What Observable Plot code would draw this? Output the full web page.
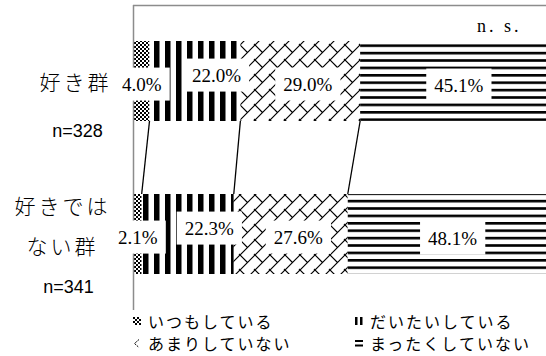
<!DOCTYPE html>
<html><head><meta charset="utf-8">
<script src="https://cdn.jsdelivr.net/npm/d3@7"></script>
<script src="https://cdn.jsdelivr.net/npm/@observablehq/plot@0.6"></script>
<style>
body{margin:0;background:#fff;}
#chart svg{display:block;overflow:hidden;}
.legend{display:grid;grid-template-columns:222px 200px;grid-auto-rows:22px;padding-left:133px;font-family:"Noto Sans CJK JP";font-size:16px;letter-spacing:2px;color:#000;}
.legend div{display:flex;align-items:center;white-space:nowrap;}
.legend svg{margin-right:7px;flex:none;}
</style></head><body>
<svg width="0" height="0" style="position:absolute">
<defs>
<pattern id="p-always" patternUnits="userSpaceOnUse" width="4" height="4">
<rect width="4" height="4" fill="#fff"/><rect width="2" height="2" fill="#000"/><rect x="2" y="2" width="2" height="2" fill="#000"/>
</pattern>
<pattern id="p-mostly" patternUnits="userSpaceOnUse" width="11" height="10">
<rect width="11" height="10" fill="#fff"/><rect width="5.5" height="10" fill="#000"/>
</pattern>
<pattern id="p-rarely" patternUnits="userSpaceOnUse" width="15" height="15">
<rect width="15" height="15" fill="#fff"/>
<path d="M-2,17L17,-2M-1,-1L7.5,7.5M14,14L16,16" stroke="#000" stroke-width="1.2" fill="none"/>
</pattern>
<pattern id="p-never" patternUnits="userSpaceOnUse" width="10" height="7.4">
<rect width="10" height="7.4" fill="#fff"/><rect width="10" height="2.6" fill="#000"/>
</pattern>
</defs>
</svg>
<div id="chart"></div>
<div class="legend" id="legend"></div>
<script>
// ---- data ----
const groups = ["好き群", "好きではない群"];
const groupLines = ["好き群", "好きでは\nない群"];
const sampleSizes = ["n=328", "n=341"];
const categories = ["いつもしている", "だいたいしている", "あまりしていない", "まったくしていない"];
const likeValues = [4.0, 22.0, 29.0, 45.1];
const dislikeValues = [2.1, 22.3, 27.6, 48.1];
const significance = "n. s.";

// ---- table built from arrays ----
const seriesByGroup = [likeValues, dislikeValues];
const data = [];
groups.forEach((g, gi) => {
  let acc = 0;
  categories.forEach((c, ci) => {
    const v = seriesByGroup[gi][ci];
    data.push({group: g, cat: c, ci, value: v, mid: acc + v / 2});
    acc += v;
  });
});
const patterns = ["url(#p-always)", "url(#p-mostly)", "url(#p-rarely)", "url(#p-never)"];
const cum = seriesByGroup.map(vals => d3.cumsum(vals).slice(0, vals.length - 1));
const nameLines = groupLines.map(s => s.split("\n"));

const serif = "Liberation Serif";
const cjk = "Noto Sans CJK JP";
// label nudges (style): per category
const labelNudge = [[0, 3], [21, -6], [7, 3], [5, 4]];

function connectors(index, scales, values, dimensions) {
  const {x, y} = scales;
  const bw = typeof y.bandwidth === "function" ? y.bandwidth() : y.bandwidth;
  const g = d3.create("svg:g").attr("stroke", "#000").attr("stroke-width", 1.3);
  cum[0].forEach((c, i) => {
    g.append("line")
      .attr("x1", x(c)).attr("y1", y(groups[0]) + bw)
      .attr("x2", x(cum[1][i])).attr("y2", y(groups[1]));
  });
  return g.node();
}
function topBorder(index, scales, values, dimensions) {
  const {x} = scales;
  return d3.create("svg:line")
    .attr("x1", x(0)).attr("x2", dimensions.width)
    .attr("y1", dimensions.marginTop + 0.5).attr("y2", dimensions.marginTop + 0.5)
    .attr("stroke", "#8c8c8c").attr("stroke-width", 1.5).node();
}

const labelMarks = categories.map((c, ci) =>
  Plot.text(data.filter(d => d.ci === ci), {x: "mid", y: "group", text: d => d.value.toFixed(1) + "%",
    dx: labelNudge[ci][0], dy: labelNudge[ci][1], fontFamily: serif, fontSize: 19, fill: "#000"}));

const nameStyle = {frameAnchor: "left", textAnchor: "middle", fontFamily: cjk, fontWeight: 300, fontSize: 21};
const chart = Plot.plot({
  width: 546,
  height: 310,
  marginLeft: 133,
  marginRight: 0,
  marginTop: 5,
  marginBottom: 0,
  x: {domain: [0, 100], axis: null},
  y: {domain: groups, axis: null, paddingInner: 0.477, paddingOuter: 0.235},
  color: {domain: categories, range: patterns},
  marks: [
    Plot.barX(data, {x: "value", y: "group", fill: "cat"}),
    Plot.ruleX([0], {stroke: "#8c8c8c", strokeWidth: 1.5}),
    topBorder,
    connectors,
    ...labelMarks,
    Plot.text([0], {y: i => groups[i], text: i => nameLines[i][0], dx: -58, dy: 2, ...nameStyle}),
    Plot.text([1], {y: i => groups[i], text: i => nameLines[i][0], dx: -71, dy: -27, ...nameStyle}),
    Plot.text([1], {y: i => groups[i], text: i => nameLines[i][1], dx: -71, dy: 13, ...nameStyle}),
    Plot.text([0], {y: i => groups[i], text: i => sampleSizes[i], frameAnchor: "left", dx: -56, dy: 50,
      textAnchor: "middle", fontFamily: "Liberation Sans", fontSize: 18}),
    Plot.text([1], {y: i => groups[i], text: i => sampleSizes[i], frameAnchor: "left", dx: -65, dy: 53,
      textAnchor: "middle", fontFamily: "Liberation Sans", fontSize: 18}),
    Plot.text([significance], {frameAnchor: "top-right", dx: -25, dy: 14, textAnchor: "end",
      fontFamily: serif, fontSize: 18})
  ]
});
document.getElementById("chart").append(chart);

const texts = Array.from(chart.querySelectorAll("text"));
// white boxes behind percentage labels
texts.filter(t => /%$/.test(t.textContent)).forEach(t => {
  const b = t.getBBox();
  const r = document.createElementNS("http://www.w3.org/2000/svg", "rect");
  r.setAttribute("x", b.x - 8); r.setAttribute("y", b.y - 6);
  r.setAttribute("width", b.width + 16); r.setAttribute("height", b.height + 12);
  r.setAttribute("fill", "#fff");
  r.setAttribute("stroke", "none");
  if (t.getAttribute("transform")) r.setAttribute("transform", t.getAttribute("transform"));
  t.parentNode.insertBefore(r, t);
});
// letter spacing for group names and n.s.
const spaced = nameLines.flat().concat([significance]);
texts.filter(t => spaced.includes(t.textContent)).forEach(t => t.style.letterSpacing = "3px");

// legend
const swatches = [
  '<rect width="8" height="8" fill="url(#p-always)"/>',
  '<rect x="0" width="2.5" height="8" fill="#000"/><rect x="5" width="2.5" height="8" fill="#000"/>',
  '<path d="M6,0.5L1.5,4.5L6,8.5" stroke="#000" stroke-width="1" fill="none" stroke-dasharray="2,1"/>',
  '<rect y="1" width="8" height="2" fill="#000"/><rect y="5.5" width="8" height="2" fill="#000"/>'
];
const legend = d3.select("#legend");
categories.forEach((c, i) => {
  const item = legend.append("div");
  item.html(`<svg width="8" height="9" viewBox="0 0 8 9">${swatches[i]}</svg><span></span>`);
  item.select("span").text(c);
});
</script>
</body></html>
